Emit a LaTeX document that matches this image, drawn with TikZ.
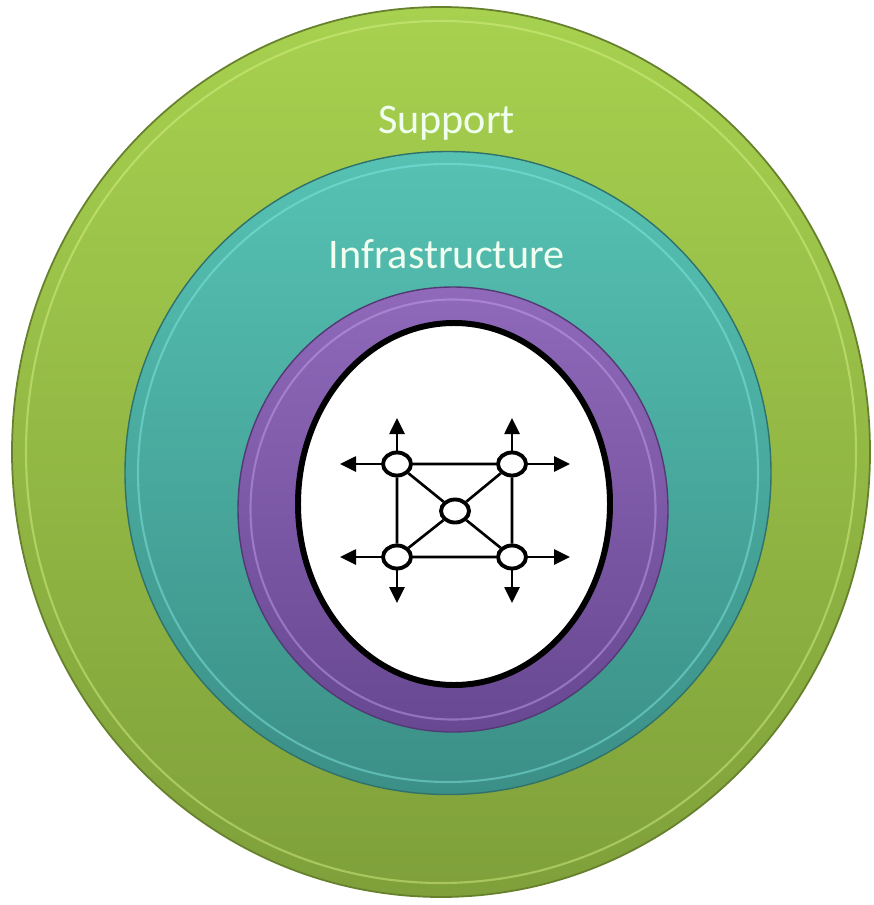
\documentclass[tikz,border=0pt]{standalone}
\usepackage{fontspec}
\setmainfont{Carlito}
\usetikzlibrary{shapes.geometric, positioning, arrows.meta}

\definecolor{supTop}{HTML}{A7D14F}
\definecolor{supBot}{HTML}{7FA03A}
\definecolor{supLit}{HTML}{DCF58C}
\definecolor{infTop}{HTML}{56C2B4}
\definecolor{infBot}{HTML}{3B8F86}
\definecolor{infLit}{HTML}{86EDE6}
\definecolor{corTop}{HTML}{9069BA}
\definecolor{corBot}{HTML}{684892}
\definecolor{corLit}{HTML}{C6A6F2}

\begin{document}
\begin{tikzpicture}[node distance = 1.15cm, on grid,
		>={Triangle[length=0.32cm, width=0.3cm]},
		ring/.style={ellipse, inner sep=0pt},
		lit/.style={line width=1.2pt, opacity=0.45},
		hub/.style={ellipse, draw, line width=2.2pt, fill=white, inner sep=0pt,
			minimum width=0.56cm, minimum height=0.46cm},
		link/.style={line width=1.5pt},
		lbl/.style={text=white!94!green, anchor=base, font=\fontsize{24}{28}\selectfont}]

			\useasboundingbox (0,0) rectangle (17.46,-18.1);

			% layers
			\node[ring, top color=supTop, bottom color=supBot, draw=supBot!80!black, line width=1pt,
				minimum width=17.16cm, minimum height=17.8cm] (support) at (8.82,-9.04) {};
			\draw[lit, supLit] (support.center) ellipse [x radius=8.3cm, y radius=8.62cm];
			\node[ring, top color=infTop, bottom color=infBot, draw=infBot!80!black, line width=0.8pt,
				minimum width=12.92cm, minimum height=12.86cm] (infra) at (8.96,-9.46) {};
			\draw[lit, infLit] (infra.center) ellipse [x radius=6.2cm, y radius=6.18cm];
			\node[ring, top color=corTop, bottom color=corBot, draw=corBot!80!black, line width=0.8pt,
				minimum width=8.6cm, minimum height=8.9cm] (core) at (9.06,-10.19) {};
			\draw[lit, corLit] (core.center) ellipse [x radius=4.05cm, y radius=4.2cm];
			\node[ring, fill=white, draw=black, line width=3.4pt,
				minimum width=6.24cm, minimum height=7.24cm] (net) at (9.08,-10.08) {};

			\node[lbl] (suplbl) at (8.93,-2.66) {Support};
			\node[lbl] (inflbl) at (8.93,-5.36) {Infrastructure};

			% network
			\node[hub] (c) at (9.10,-10.22) {};
			\node[hub, above left=0.94cm and 1.16cm of c] (tl) {};
			\node[hub, above right=0.94cm and 1.14cm of c] (tr) {};
			\node[hub, below left=0.92cm and 1.16cm of c] (bl) {};
			\node[hub, below right=0.92cm and 1.14cm of c] (br) {};

			\coordinate[above=0.92cm of tl] (tl-n);
			\coordinate[left=1.14cm of tl] (tl-w);
			\coordinate[above=0.92cm of tr] (tr-n);
			\coordinate[right=1.16cm of tr] (tr-e);
			\coordinate[left=1.14cm of bl] (bl-w);
			\coordinate[below=0.92cm of bl] (bl-s);
			\coordinate[right=1.16cm of br] (br-e);
			\coordinate[below=0.92cm of br] (br-s);

			\draw[link] (tl) -- (tr)
			(tr) -- (br)
			(br) -- (bl)
			(bl) -- (tl)
			(tl) -- (c)
			(c) -- (br)
			(tr) -- (c)
			(c) -- (bl);

			\draw[link, ->] (tl) -- (tl-n);
			\draw[link, ->] (tl) -- (tl-w);
			\draw[link, ->] (tr) -- (tr-n);
			\draw[link, ->] (tr) -- (tr-e);
			\draw[link, ->] (bl) -- (bl-w);
			\draw[link, ->] (bl) -- (bl-s);
			\draw[link, ->] (br) -- (br-e);
			\draw[link, ->] (br) -- (br-s);

		\end{tikzpicture}
\end{document}
